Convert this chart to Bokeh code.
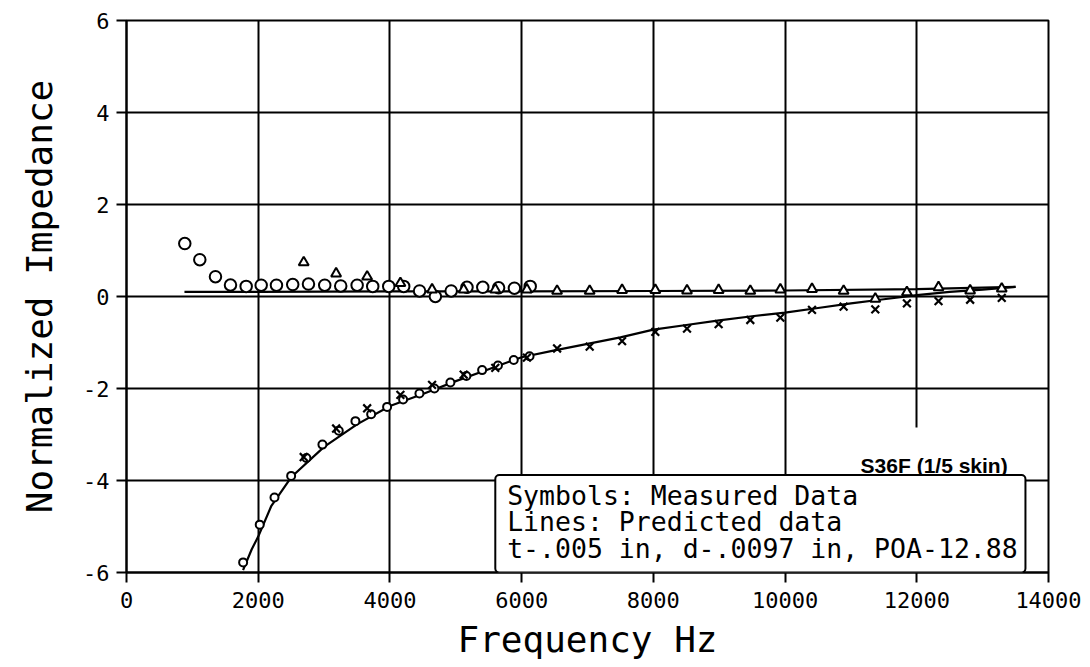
from bokeh.plotting import figure
from bokeh.models import Range1d, FixedTicker, BoxAnnotation, Label, PrintfTickFormatter
from bokeh.embed import file_html
from bokeh.resources import INLINE

# ---------------- data ----------------
x_ticks = [0, 2000, 4000, 6000, 8000, 10000, 12000, 14000]
y_ticks = [-6, -4, -2, 0, 2, 4, 6]

# predicted (lines)
pred_upper_f = [880, 2000, 4000, 6000, 8000, 10000, 12000, 13500]
pred_upper_z = [0.10, 0.10, 0.11, 0.11, 0.12, 0.13, 0.16, 0.21]

pred_lower_f = [1770, 1900, 2000, 2200, 2500, 3000, 3500, 4000, 4500, 5000, 5500,
                6000, 6500, 7000, 7500, 8000, 8500, 9000, 9500, 10000, 10500,
                11000, 11500, 12000, 12500, 13000, 13500]
pred_lower_z = [-5.95, -5.5, -5.22, -4.55, -3.93, -3.27, -2.78, -2.38, -2.12, -1.84,
                -1.58, -1.32, -1.17, -1.03, -0.89, -0.72, -0.62, -0.52, -0.43, -0.35,
                -0.25, -0.15, -0.06, 0.03, 0.10, 0.15, 0.21]

# measured set A (circles)
circ_f = [885, 1113, 1351, 1579, 1817, 2045, 2277, 2524, 2763, 3010, 3253, 3502,
          3739, 3982, 4209, 4450, 4690, 4930, 5170, 5410, 5650, 5890, 6130]
circ_res = [1.15, 0.80, 0.43, 0.25, 0.22, 0.245, 0.245, 0.26, 0.27, 0.245, 0.23, 0.245,
            0.22, 0.22, 0.22, 0.12, 0.0, 0.12, 0.20, 0.20, 0.19, 0.18, 0.22]
circ_lo_f = [1771, 2023, 2247, 2500, 2732, 2975, 3223, 3476, 3715, 3957, 4200, 4448,
             4675, 4918, 5161, 5400, 5640, 5880, 6120]
circ_react = [-5.78, -4.96, -4.37, -3.90, -3.51, -3.22, -2.92, -2.71, -2.56, -2.40, -2.24,
              -2.11, -2.00, -1.87, -1.73, -1.60, -1.50, -1.38, -1.30]

# measured set B (triangles = resistance, crosses = reactance)
setb_f = [2691, 3183, 3654, 4159, 4640, 5120, 5600, 6080, 6538, 7033, 7525, 8030,
          8511, 8991, 9472, 9928, 10409, 10889, 11370, 11850, 12330, 12810, 13290]
tri_res = [0.74, 0.50, 0.43, 0.29, 0.15, 0.15, 0.15, 0.15, 0.12, 0.12, 0.14, 0.14,
           0.13, 0.14, 0.12, 0.15, 0.16, 0.12, -0.05, 0.09, 0.20, 0.13, 0.17]
x_react = [-3.49, -2.87, -2.43, -2.14, -1.92, -1.70, -1.55, -1.33, -1.13, -1.09, -0.97,
           -0.77, -0.70, -0.60, -0.51, -0.46, -0.29, -0.22, -0.28, -0.15, -0.10, -0.07, -0.03]

legend_lines = ["Symbols: Measured Data",
                "Lines: Predicted data",
                "t-.005 in, d-.0097 in, POA-12.88"]
tag_text = "S36F (1/5 skin)"

FONT = "DejaVu Sans Mono"

# ---------------- figure ----------------
p = figure(width=1090, height=667,
           x_range=Range1d(0, 14000), y_range=Range1d(-6, 6),
           output_backend="svg", toolbar_location=None,
           min_border_left=126, min_border_right=42,
           min_border_top=20, min_border_bottom=95)
p.background_fill_color = "white"
p.border_fill_color = "white"
p.outline_line_color = "black"
p.outline_line_width = 2
p.outline_line_alpha = 1.0

for ax, ticks in ((p.xaxis[0], x_ticks), (p.yaxis[0], y_ticks)):
    ax.ticker = FixedTicker(ticks=ticks)
    ax.formatter = PrintfTickFormatter(format="%d")
    ax.axis_line_color = "black"
    ax.axis_line_width = 2
    ax.major_tick_line_color = "black"
    ax.major_tick_line_width = 2
    ax.major_tick_out = 10
    ax.major_tick_in = 0
    ax.minor_tick_line_color = None
    ax.major_label_text_font = FONT
    ax.major_label_text_font_size = "22px"
    ax.major_label_text_color = "black"
    ax.axis_label_text_font = FONT
    ax.axis_label_text_font_size = "36px"
    ax.axis_label_text_font_style = "normal"
    ax.axis_label_text_color = "black"

p.xaxis.axis_label = "Frequency Hz"
p.yaxis.axis_label = "Normalized Impedance"
p.xaxis.major_label_standoff = 9
p.yaxis.major_label_standoff = 7
p.xaxis.axis_label_standoff = 8
p.yaxis.axis_label_standoff = 20

p.xgrid.ticker = FixedTicker(ticks=x_ticks)
p.ygrid.ticker = FixedTicker(ticks=y_ticks)
for g in (p.xgrid[0], p.ygrid[0]):
    g.grid_line_color = "black"
    g.grid_line_width = 2
    g.grid_line_alpha = 1.0

# predicted lines
p.line(pred_upper_f, pred_upper_z, line_color="black", line_width=2.2)
p.line(pred_lower_f, pred_lower_z, line_color="black", line_width=2.2)

# measured symbols
p.scatter(circ_f, circ_res, marker="circle", size=11.5, fill_color="white",
          line_color="black", line_width=2)
p.scatter(circ_lo_f, circ_react, marker="circle", size=8, fill_color="white",
          line_color="black", line_width=2)
p.scatter(setb_f, tri_res, marker="triangle", size=10, fill_color="white",
          line_color="black", line_width=2)
p.scatter(setb_f, x_react, marker="x", size=11, line_color="black", line_width=2.2)

# tag label background (hides grid behind label)
p.add_layout(BoxAnnotation(left=11000, right=13750, top=-2.85, bottom=-3.88,
                           fill_color="white", fill_alpha=1.0, line_alpha=0))
p.add_layout(Label(x=13380, y=-3.67, text=tag_text, text_align="right",
                   text_baseline="alphabetic", text_font="Liberation Sans",
                   text_font_style="bold", text_font_size="21px", text_color="black"))

# legend box
p.add_layout(BoxAnnotation(left=5600, right=13650, top=-3.88, bottom=-6,
                           fill_color="white", fill_alpha=1.0,
                           line_color="black", line_width=2, line_alpha=1.0,
                           border_radius=4))
for i, t in enumerate(legend_lines):
    p.add_layout(Label(x=5780, y=-4.33 - 0.57 * i, text=t, text_align="left",
                       text_baseline="middle", text_font=FONT,
                       text_font_size="26.5px", text_color="black"))

open("out.html", "w").write(file_html(p, INLINE))
